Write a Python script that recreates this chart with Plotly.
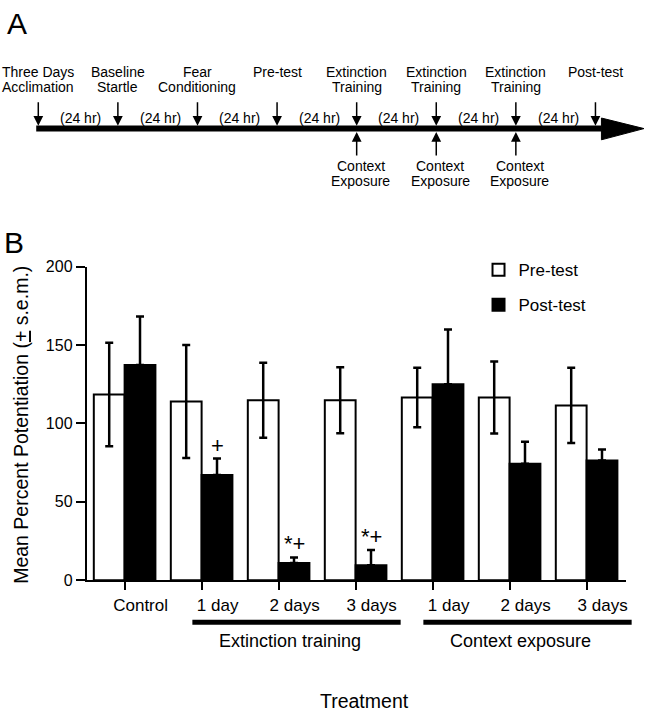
import plotly.graph_objects as go

# ---------------- data ----------------
categories = ["Control", "1 day", "2 days", "3 days", "1 day", "2 days", "3 days"]
pre_mean = [118.5, 114.0, 114.8, 114.8, 116.5, 116.5, 111.5]
pre_sem = [33, 36, 24, 21, 19, 23, 24]
post_mean = [137.3, 67.1, 11.0, 9.5, 125.0, 74.3, 76.4]
post_sem = [31, 10.5, 3.5, 9.8, 35, 14, 7]
sig_marks = ["", "+", "*+", "*+", "", "", ""]
groups = [("Extinction training", 1, 3), ("Context exposure", 4, 6)]
y_ticks = [0, 50, 100, 150, 200]

# timeline (panel A)
events_top = [["Three Days", "Acclimation"], ["Baseline", "Startle"], ["Fear", "Conditioning"],
              ["Pre-test"], ["Extinction", "Training"], ["Extinction", "Training"],
              ["Extinction", "Training"], ["Post-test"]]
context_idx = [4, 5, 6]
context_label = ["Context", "Exposure"]
interval_label = "(24 hr)"

FONT = "Liberation Sans, Arial, sans-serif"
W, H = 648, 719
xpos = list(range(len(categories)))

x_range = [-0.492, 6.506]
x_dom = [87 / W, 627.5 / W]
y_dom = [1 - 586 / H, 1 - 265 / H]


def xpaper(v):
    return x_dom[0] + (v - x_range[0]) / (x_range[1] - x_range[0]) * (x_dom[1] - x_dom[0])


def txt(size):
    return dict(size=size, family=FONT, color="black")


fig = go.Figure()
fig.add_trace(go.Bar(
    x=xpos, y=pre_mean, name="Pre-test", legendgroup="pre",
    marker=dict(color="white", line=dict(color="black", width=2)),
    error_y=dict(type="data", array=pre_sem, visible=True, color="black", thickness=2.5, width=4),
    hoverinfo="skip"))
fig.add_trace(go.Bar(
    x=xpos, y=post_mean, name="Post-test", legendgroup="post",
    marker=dict(color="black", line=dict(color="black", width=2)),
    error_y=dict(type="data", symmetric=False, array=post_sem, arrayminus=[0] * len(post_sem),
                 visible=True, color="black", thickness=2.5, width=4),
    hoverinfo="skip"))

# ---- timeline on full-figure overlay axes ----
n_ev = len(events_top)
line_y = 123.5
fig.add_trace(go.Scatter(x=[-0.026, n_ev - 1 + 0.075], y=[line_y, line_y], mode="lines",
                         line=dict(color="black", width=6), xaxis="x2", yaxis="y2",
                         showlegend=False, hoverinfo="skip"))
fig.add_trace(go.Scatter(x=[n_ev - 1 + 0.075, n_ev - 1 + 0.61, n_ev - 1 + 0.075, n_ev - 1 + 0.075],
                         y=[112.7, line_y, 135, 112.7], mode="lines", fill="toself",
                         fillcolor="black", line=dict(color="black", width=1),
                         xaxis="x2", yaxis="y2", showlegend=False, hoverinfo="skip"))

ann = []
for i, lines in enumerate(events_top):
    for j, t in enumerate(lines):
        ann.append(dict(x=i, y=65.5 + 15 * j, xref="x2", yref="y2", text=t, showarrow=False,
                        xanchor="center", yanchor="middle", font=txt(14)))
    ann.append(dict(x=i, y=120.5, xref="x2", yref="y2", text="", showarrow=True, ax=0, ay=-25,
                    arrowhead=2, arrowsize=1.3, arrowwidth=1.5, arrowcolor="black"))
for i in range(n_ev - 1):
    ann.append(dict(x=i + 0.53, y=112.5, xref="x2", yref="y2", text=interval_label, showarrow=False,
                    xanchor="center", yanchor="middle", font=txt(14)))
for i in context_idx:
    ann.append(dict(x=i, y=127, xref="x2", yref="y2", text="", showarrow=True, ax=0, ay=25,
                    arrowhead=2, arrowsize=1.3, arrowwidth=1.5, arrowcolor="black"))
    for j, t in enumerate(context_label):
        ann.append(dict(x=i + 0.05, y=162.3 + 15 * j, xref="x2", yref="y2", text=t, showarrow=False,
                        xanchor="center", yanchor="middle", font=txt(14)))

# significance marks
for i, s in enumerate(sig_marks):
    if s:
        ann.append(dict(x=i + 0.2, y=post_mean[i] + post_sem[i], xref="x", yref="y", text=s,
                        showarrow=False, xanchor="center", yanchor="bottom", yshift=-1,
                        font=txt(22)))

# group brackets
shapes = []
for name, a, b in groups:
    x0, x1 = a - 0.12, b + 0.585
    shapes.append(dict(type="line", xref="paper", yref="paper", x0=xpaper(x0), x1=xpaper(x1),
                       y0=1 - 629 / H, y1=1 - 629 / H, line=dict(color="black", width=5)))
    ann.append(dict(x=xpaper((x0 + x1) / 2 - 0.09), y=1 - 648.3 / H, xref="paper", yref="paper",
                    text=name, showarrow=False, xanchor="center", yanchor="middle", font=txt(18)))

# panel letters and titles
ann.append(dict(x=5 / W, y=1 - 16 / H, xref="paper", yref="paper", text="A", showarrow=False,
                xanchor="left", yanchor="middle", font=txt(30)))
ann.append(dict(x=2 / W, y=1 - 240 / H, xref="paper", yref="paper", text="B", showarrow=False,
                xanchor="left", yanchor="middle", font=txt(30)))
ann.append(dict(x=21 / W, y=1 - 427 / H, xref="paper", yref="paper",
                text="Mean Percent Potentiation (<u>+</u> s.e.m.)", textangle=-90, showarrow=False,
                xanchor="center", yanchor="middle", font=txt(19.5)))
ann.append(dict(x=366 / W, y=1 - 710 / H, xref="paper", yref="paper", text="Treatment",
                showarrow=False, xanchor="center", yanchor="middle", font=txt(19.5)))

fig.update_layout(
    width=W, height=H, margin=dict(l=0, r=0, t=0, b=0),
    paper_bgcolor="white", plot_bgcolor="rgba(0,0,0,0)",
    font=dict(family=FONT, color="black"),
    barmode="group", bargap=0.2, bargroupgap=0,
    showlegend=True,
    legend=dict(x=480 / W, y=1 - 250 / H, xanchor="left", yanchor="top",
                font=txt(17), bgcolor="rgba(0,0,0,0)",
                traceorder="grouped", tracegroupgap=10),
    xaxis=dict(domain=x_dom, range=x_range, tickvals=xpos, ticktext=categories,
               ticks="outside", ticklen=8, tickwidth=2, tickcolor="black",
               showline=True, linewidth=2, linecolor="black", showgrid=False, zeroline=False,
               tickfont=txt(17), ticklabelshift=16,
               anchor="y", fixedrange=True),
    yaxis=dict(domain=y_dom, range=[0, 200], tickvals=y_ticks,
               ticks="outside", ticklen=9, tickwidth=2, tickcolor="black",
               showline=True, linewidth=2, linecolor="black", showgrid=False, zeroline=False,
               tickfont=txt(16), anchor="x", fixedrange=True),
    xaxis2=dict(domain=[0, 1], range=[-0.481, 7.635], visible=False, anchor="y2", fixedrange=True),
    yaxis2=dict(domain=[0, 1], range=[H, 0], visible=False, anchor="x2", fixedrange=True),
    annotations=ann, shapes=shapes,
)

fig.write_html("out.html", config={"displayModeBar": False},
               post_script="document.body.style.margin='0';document.body.style.overflow='hidden';")
